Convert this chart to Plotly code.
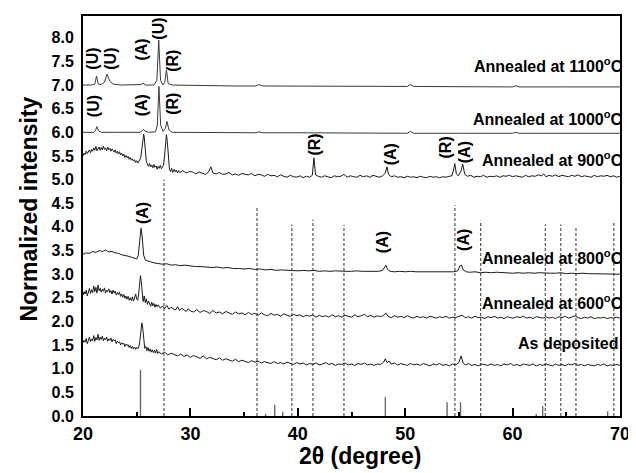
import plotly.graph_objects as go

# ---------------- data ----------------
two_theta_ticks = [20, 30, 40, 50, 60, 70]
intensity_ticks = [0.0, 0.5, 1.0, 1.5, 2.0, 2.5, 3.0, 3.5, 4.0, 4.5, 5.0, 5.5, 6.0, 6.5, 7.0, 7.5, 8.0]

annealed_1100 = [(20, 7.0), (20.8, 7.0), (21.1, 7.02), (21.26, 7.19), (21.42, 7.02), (21.7, 7.01),
                 (22.0, 7.06), (22.24, 7.23), (22.5, 7.08), (22.8, 7.02), (23.5, 7.0), (24.5, 7.0),
                 (25.4, 7.01), (25.6, 7.04), (25.8, 7.0), (26.6, 7.0), (26.88, 7.1), (27.05, 7.95),
                 (27.22, 7.1), (27.45, 7.0), (27.62, 7.06), (27.77, 7.32), (27.93, 7.03), (28.3, 7.0),
                 (30, 6.99), (32, 6.99), (34, 6.98), (36.1, 6.98), (36.4, 7.01), (36.7, 6.98), (40, 6.975),
                 (45, 6.97), (50.2, 6.97), (50.5, 7.01), (50.8, 6.97), (55, 6.965), (60, 6.96),
                 (60.3, 6.985), (60.6, 6.96), (65, 6.96), (70, 6.96)]

annealed_1000 = [(20, 6.0), (21.0, 6.0), (21.15, 6.03), (21.3, 6.12), (21.45, 6.03), (21.7, 6.0),
                 (23, 6.0), (25.3, 6.0), (25.5, 6.03), (25.65, 6.06), (25.8, 6.02), (26.1, 6.0),
                 (26.75, 6.01), (26.92, 6.15), (27.07, 6.97), (27.23, 6.15), (27.45, 6.02), (27.66, 6.08),
                 (27.82, 6.23), (28.0, 6.05), (28.3, 6.0), (30, 6.0), (36.1, 5.99), (36.4, 6.01),
                 (36.7, 5.99), (40, 5.99), (45, 5.985), (50.2, 5.98), (50.5, 6.02), (50.8, 5.98),
                 (55, 5.98), (60, 5.98), (60.3, 6.0), (60.6, 5.98), (70, 5.98)]

annealed_900 = [(20.0, 5.50), (20.1, 5.56), (20.2, 5.53), (20.3, 5.60), (20.4, 5.55), (20.5, 5.58),
                (20.6, 5.63), (20.7, 5.57), (20.8, 5.64), (20.9, 5.60), (21.0, 5.67), (21.1, 5.62),
                (21.2, 5.70), (21.3, 5.61), (21.4, 5.66), (21.5, 5.69), (21.6, 5.62), (21.7, 5.68),
                (21.8, 5.63), (21.9, 5.71), (22.0, 5.64), (22.1, 5.67), (22.2, 5.61), (22.3, 5.69),
                (22.4, 5.63), (22.5, 5.66), (22.6, 5.60), (22.7, 5.65), (22.8, 5.62), (22.9, 5.58),
                (23.0, 5.63), (23.1, 5.56), (23.2, 5.60), (23.3, 5.54), (23.4, 5.59), (23.5, 5.52),
                (23.6, 5.56), (23.7, 5.50), (23.8, 5.54), (23.9, 5.47), (24.0, 5.51), (24.1, 5.46),
                (24.2, 5.49), (24.3, 5.43), (24.4, 5.47), (24.5, 5.41), (24.6, 5.44), (24.7, 5.39),
                (24.8, 5.42), (24.9, 5.36), (25.0, 5.40), (25.1, 5.35), (25.2, 5.39), (25.3, 5.42),
                (25.4, 5.50), (25.5, 5.75), (25.6, 5.94), (25.65, 5.96), (25.7, 5.90), (25.8, 5.62),
                (25.9, 5.38), (26.0, 5.33), (26.1, 5.28), (26.2, 5.34), (26.3, 5.27), (26.4, 5.31),
                (26.5, 5.25), (26.6, 5.32), (26.7, 5.26), (26.8, 5.29), (26.9, 5.22), (27.0, 5.28),
                (27.1, 5.24), (27.2, 5.30), (27.3, 5.23), (27.4, 5.27), (27.5, 5.31), (27.6, 5.52),
                (27.7, 5.88), (27.77, 5.95), (27.85, 5.80), (27.95, 5.45), (28.05, 5.22), (28.15, 5.17),
                (28.25, 5.24), (28.35, 5.15), (28.5, 5.22), (28.6, 5.16), (28.7, 5.20), (28.8, 5.14),
                (28.9, 5.19), (29.0, 5.15), (29.3, 5.19), (29.6, 5.14), (29.9, 5.17), (30.2, 5.16),
                (30.5, 5.12), (30.8, 5.16), (31.1, 5.14), (31.4, 5.11), (31.7, 5.16), (31.9, 5.27),
                (32.1, 5.14), (32.4, 5.12), (32.7, 5.15), (33.0, 5.11), (33.3, 5.12), (33.6, 5.15),
                (33.9, 5.10), (34.2, 5.12), (34.5, 5.09), (34.8, 5.13), (35.1, 5.11), (35.4, 5.10),
                (35.7, 5.13), (36.0, 5.08), (36.3, 5.11), (36.6, 5.10), (36.9, 5.07), (37.2, 5.11),
                (37.5, 5.08), (37.8, 5.09), (38.1, 5.06), (38.4, 5.10), (38.7, 5.07), (39.0, 5.05),
                (39.3, 5.09), (39.6, 5.06), (39.9, 5.05), (40.2, 5.08), (40.5, 5.04), (40.8, 5.07),
                (41.1, 5.05), (41.35, 5.09), (41.5, 5.46), (41.65, 5.10), (41.9, 5.07), (42.2, 5.05),
                (42.5, 5.08), (42.8, 5.06), (43.1, 5.04), (43.4, 5.08), (43.7, 5.06), (44.0, 5.07),
                (44.3, 5.11), (44.6, 5.05), (44.9, 5.08), (45.2, 5.06), (45.5, 5.05), (45.8, 5.09),
                (46.1, 5.06), (46.4, 5.08), (46.7, 5.05), (47.0, 5.09), (47.3, 5.07), (47.6, 5.05),
                (47.9, 5.08), (48.15, 5.14), (48.3, 5.27), (48.45, 5.11), (48.7, 5.06), (49.0, 5.08),
                (49.3, 5.05), (49.6, 5.06), (49.9, 5.04), (50.2, 5.07), (50.5, 5.05), (50.8, 5.06),
                (51.1, 5.04), (51.4, 5.07), (51.7, 5.05), (52.0, 5.04), (52.3, 5.07), (52.6, 5.05),
                (52.9, 5.06), (53.2, 5.04), (53.5, 5.06), (53.8, 5.05), (54.1, 5.07), (54.35, 5.08),
                (54.5, 5.20), (54.62, 5.34), (54.76, 5.12), (54.95, 5.08), (55.2, 5.18), (55.35, 5.33),
                (55.55, 5.11), (55.8, 5.07), (56.1, 5.09), (56.4, 5.05), (56.7, 5.07), (57.0, 5.06),
                (57.3, 5.09), (57.6, 5.05), (57.9, 5.07), (58.2, 5.06), (58.5, 5.08), (58.8, 5.05),
                (59.1, 5.08), (59.4, 5.07), (59.7, 5.09), (60.0, 5.06), (60.3, 5.08), (60.6, 5.07),
                (60.9, 5.05), (61.2, 5.09), (61.5, 5.06), (61.8, 5.08), (62.1, 5.07), (62.4, 5.10),
                (62.7, 5.08), (62.9, 5.12), (63.1, 5.06), (63.4, 5.09), (63.7, 5.07), (64.0, 5.10),
                (64.3, 5.06), (64.6, 5.09), (64.9, 5.08), (65.2, 5.06), (65.5, 5.09), (65.8, 5.07),
                (66.1, 5.10), (66.4, 5.06), (66.7, 5.08), (67.0, 5.07), (67.3, 5.05), (67.6, 5.09),
                (67.9, 5.06), (68.2, 5.08), (68.5, 5.07), (68.8, 5.09), (69.1, 5.06), (69.4, 5.08),
                (69.7, 5.05), (70.0, 5.07)]

annealed_800 = [(20.0, 3.42), (20.3, 3.45), (20.6, 3.44), (20.9, 3.48), (21.2, 3.46), (21.5, 3.50),
                (21.8, 3.48), (22.1, 3.51), (22.4, 3.47), (22.7, 3.48), (23.0, 3.45), (23.3, 3.44),
                (23.6, 3.41), (23.9, 3.40), (24.2, 3.38), (24.5, 3.36), (24.8, 3.34), (25.0, 3.32),
                (25.15, 3.40), (25.3, 3.85), (25.4, 3.97), (25.5, 3.82), (25.65, 3.40), (25.8, 3.30),
                (26.0, 3.28), (26.3, 3.26), (26.6, 3.24), (27.0, 3.23), (27.4, 3.21), (27.8, 3.22),
                (28.2, 3.19), (28.6, 3.20), (29.0, 3.18), (29.5, 3.19), (30.0, 3.17), (30.5, 3.16),
                (31.0, 3.16), (31.5, 3.15), (32.0, 3.14), (32.5, 3.15), (33.0, 3.13), (33.5, 3.14),
                (34.0, 3.12), (34.5, 3.12), (35.0, 3.11), (35.5, 3.12), (36.0, 3.10), (36.5, 3.11),
                (37.0, 3.09), (37.5, 3.10), (38.0, 3.08), (38.5, 3.09), (39.0, 3.08), (39.5, 3.08),
                (40.0, 3.07), (40.5, 3.08), (41.0, 3.07), (41.5, 3.08), (42.0, 3.06), (42.5, 3.07),
                (43.0, 3.06), (43.5, 3.07), (44.0, 3.06), (44.5, 3.06), (45.0, 3.06), (45.5, 3.07),
                (46.0, 3.06), (46.5, 3.06), (47.0, 3.06), (47.5, 3.06), (47.9, 3.08), (48.1, 3.17),
                (48.2, 3.19), (48.35, 3.10), (48.6, 3.06), (49.0, 3.05), (49.5, 3.06), (50.0, 3.05),
                (50.5, 3.06), (51.0, 3.05), (51.5, 3.05), (52.0, 3.05), (52.5, 3.05), (53.0, 3.04),
                (53.5, 3.05), (54.0, 3.04), (54.5, 3.05), (54.9, 3.07), (55.1, 3.18), (55.25, 3.19),
                (55.4, 3.09), (55.7, 3.05), (56.0, 3.04), (56.5, 3.05), (57.0, 3.03), (57.5, 3.04),
                (58.0, 3.03), (58.5, 3.04), (59.0, 3.03), (59.5, 3.03), (60.0, 3.02), (60.5, 3.03),
                (61.0, 3.02), (61.5, 3.03), (62.0, 3.02), (62.5, 3.03), (63.0, 3.02), (63.5, 3.02),
                (64.0, 3.02), (64.5, 3.03), (65.0, 3.01), (65.5, 3.02), (66.0, 3.01), (66.5, 3.02),
                (67.0, 3.01), (67.5, 3.01), (68.0, 3.00), (68.5, 3.01), (69.0, 3.00), (69.5, 3.01),
                (70.0, 3.00)]

annealed_600 = [(20.0, 2.55), (20.1, 2.63), (20.2, 2.58), (20.3, 2.66), (20.4, 2.54), (20.5, 2.62),
                (20.6, 2.70), (20.7, 2.59), (20.8, 2.67), (20.9, 2.61), (21.0, 2.75), (21.1, 2.63),
                (21.2, 2.72), (21.3, 2.60), (21.4, 2.77), (21.5, 2.65), (21.6, 2.70), (21.7, 2.62),
                (21.8, 2.68), (21.9, 2.64), (22.0, 2.71), (22.1, 2.60), (22.2, 2.66), (22.3, 2.63),
                (22.4, 2.69), (22.5, 2.61), (22.6, 2.65), (22.7, 2.58), (22.8, 2.66), (22.9, 2.60),
                (23.0, 2.64), (23.1, 2.56), (23.2, 2.61), (23.3, 2.57), (23.4, 2.62), (23.5, 2.53),
                (23.6, 2.58), (23.7, 2.51), (23.8, 2.57), (23.9, 2.49), (24.0, 2.54), (24.1, 2.47),
                (24.2, 2.53), (24.3, 2.45), (24.4, 2.50), (24.5, 2.44), (24.6, 2.52), (24.7, 2.43),
                (24.8, 2.49), (24.9, 2.58), (25.0, 2.47), (25.1, 2.45), (25.2, 2.62), (25.3, 2.90),
                (25.35, 2.97), (25.42, 2.85), (25.5, 2.55), (25.6, 2.42), (25.7, 2.54), (25.8, 2.40),
                (25.9, 2.48), (26.0, 2.36), (26.1, 2.43), (26.2, 2.38), (26.3, 2.32), (26.4, 2.41),
                (26.5, 2.33), (26.6, 2.38), (26.7, 2.30), (26.8, 2.36), (26.9, 2.31), (27.0, 2.35),
                (27.2, 2.28), (27.4, 2.33), (27.6, 2.27), (27.8, 2.34), (28.0, 2.26), (28.2, 2.30),
                (28.4, 2.27), (28.6, 2.24), (28.8, 2.31), (29.0, 2.23), (29.2, 2.28), (29.4, 2.25),
                (29.6, 2.21), (29.8, 2.27), (30.0, 2.22), (30.3, 2.20), (30.6, 2.25), (30.9, 2.19),
                (31.2, 2.23), (31.5, 2.21), (31.8, 2.17), (32.1, 2.23), (32.4, 2.18), (32.7, 2.20),
                (33.0, 2.16), (33.3, 2.21), (33.6, 2.18), (33.9, 2.15), (34.2, 2.20), (34.5, 2.16),
                (34.8, 2.18), (35.1, 2.14), (35.4, 2.19), (35.7, 2.15), (36.0, 2.17), (36.3, 2.13),
                (36.6, 2.18), (36.9, 2.14), (37.2, 2.12), (37.5, 2.17), (37.8, 2.13), (38.1, 2.15),
                (38.4, 2.11), (38.7, 2.16), (39.0, 2.13), (39.3, 2.11), (39.6, 2.15), (39.9, 2.12),
                (40.2, 2.14), (40.5, 2.10), (40.8, 2.13), (41.1, 2.11), (41.4, 2.14), (41.7, 2.09),
                (42.0, 2.13), (42.3, 2.10), (42.6, 2.12), (42.9, 2.09), (43.2, 2.14), (43.5, 2.10),
                (43.8, 2.12), (44.1, 2.09), (44.4, 2.13), (44.7, 2.11), (45.0, 2.09), (45.3, 2.14),
                (45.6, 2.10), (45.9, 2.12), (46.2, 2.15), (46.5, 2.10), (46.8, 2.13), (47.1, 2.09),
                (47.4, 2.12), (47.7, 2.10), (48.0, 2.13), (48.2, 2.18), (48.4, 2.11), (48.7, 2.08),
                (49.0, 2.12), (49.3, 2.09), (49.6, 2.11), (49.9, 2.08), (50.2, 2.12), (50.5, 2.09),
                (50.8, 2.07), (51.1, 2.11), (51.4, 2.08), (51.7, 2.10), (52.0, 2.07), (52.3, 2.11),
                (52.6, 2.09), (52.9, 2.07), (53.2, 2.10), (53.5, 2.08), (53.8, 2.11), (54.1, 2.07),
                (54.4, 2.09), (54.7, 2.08), (55.0, 2.11), (55.3, 2.13), (55.6, 2.08), (55.9, 2.10),
                (56.2, 2.07), (56.5, 2.11), (56.8, 2.08), (57.1, 2.09), (57.4, 2.06), (57.7, 2.10),
                (58.0, 2.08), (58.3, 2.11), (58.6, 2.07), (58.9, 2.09), (59.2, 2.06), (59.5, 2.10),
                (59.8, 2.08), (60.1, 2.07), (60.4, 2.10), (60.7, 2.08), (61.0, 2.11), (61.3, 2.07),
                (61.6, 2.09), (61.9, 2.06), (62.2, 2.10), (62.5, 2.08), (62.8, 2.07), (63.1, 2.10),
                (63.4, 2.07), (63.7, 2.09), (64.0, 2.06), (64.3, 2.10), (64.6, 2.08), (64.9, 2.11),
                (65.2, 2.07), (65.5, 2.09), (65.8, 2.12), (66.1, 2.08), (66.4, 2.06), (66.7, 2.09),
                (67.0, 2.07), (67.3, 2.10), (67.6, 2.06), (67.9, 2.08), (68.2, 2.07), (68.5, 2.09),
                (68.8, 2.06), (69.1, 2.08), (69.4, 2.07), (69.7, 2.09), (70.0, 2.07)]

as_deposited = [(20.0, 1.55), (20.1, 1.60), (20.2, 1.56), (20.3, 1.64), (20.4, 1.53), (20.5, 1.61),
                (20.6, 1.67), (20.7, 1.57), (20.8, 1.63), (20.9, 1.59), (21.0, 1.70), (21.1, 1.58),
                (21.2, 1.66), (21.3, 1.61), (21.4, 1.73), (21.5, 1.60), (21.6, 1.67), (21.7, 1.62),
                (21.8, 1.69), (21.9, 1.59), (22.0, 1.65), (22.1, 1.61), (22.2, 1.67), (22.3, 1.58),
                (22.4, 1.63), (22.5, 1.60), (22.6, 1.65), (22.7, 1.57), (22.8, 1.62), (22.9, 1.59),
                (23.0, 1.61), (23.1, 1.53), (23.2, 1.58), (23.3, 1.55), (23.4, 1.57), (23.5, 1.50),
                (23.6, 1.55), (23.7, 1.52), (23.8, 1.54), (23.9, 1.47), (24.0, 1.52), (24.1, 1.49),
                (24.2, 1.51), (24.3, 1.45), (24.4, 1.49), (24.5, 1.43), (24.6, 1.47), (24.7, 1.42),
                (24.8, 1.46), (24.9, 1.41), (25.0, 1.45), (25.1, 1.42), (25.2, 1.46), (25.3, 1.60),
                (25.4, 1.88), (25.48, 1.97), (25.56, 1.86), (25.65, 1.58), (25.75, 1.43), (25.85, 1.47),
                (25.95, 1.38), (26.05, 1.45), (26.15, 1.37), (26.25, 1.42), (26.35, 1.35), (26.45, 1.40),
                (26.55, 1.34), (26.65, 1.39), (26.75, 1.33), (26.85, 1.41), (26.95, 1.32), (27.05, 1.36),
                (27.3, 1.31), (27.6, 1.35), (27.9, 1.29), (28.2, 1.33), (28.5, 1.30), (28.8, 1.27),
                (29.1, 1.31), (29.4, 1.26), (29.7, 1.29), (30.0, 1.24), (30.3, 1.28), (30.6, 1.25),
                (30.9, 1.22), (31.2, 1.27), (31.5, 1.21), (31.8, 1.24), (32.1, 1.22), (32.4, 1.19),
                (32.7, 1.23), (33.0, 1.18), (33.3, 1.21), (33.6, 1.19), (33.9, 1.16), (34.2, 1.20),
                (34.5, 1.15), (34.8, 1.18), (35.1, 1.16), (35.4, 1.13), (35.7, 1.17), (36.0, 1.14),
                (36.3, 1.16), (36.6, 1.12), (36.9, 1.15), (37.2, 1.13), (37.5, 1.11), (37.8, 1.15),
                (38.1, 1.11), (38.4, 1.13), (38.7, 1.10), (39.0, 1.14), (39.3, 1.11), (39.6, 1.09),
                (39.9, 1.13), (40.2, 1.10), (40.5, 1.12), (40.8, 1.08), (41.1, 1.11), (41.4, 1.09),
                (41.7, 1.12), (42.0, 1.08), (42.3, 1.10), (42.6, 1.13), (42.9, 1.09), (43.2, 1.11),
                (43.5, 1.07), (43.8, 1.10), (44.1, 1.09), (44.4, 1.12), (44.7, 1.08), (45.0, 1.10),
                (45.3, 1.07), (45.6, 1.11), (45.9, 1.09), (46.2, 1.12), (46.5, 1.08), (46.8, 1.10),
                (47.1, 1.07), (47.4, 1.10), (47.7, 1.09), (48.0, 1.14), (48.15, 1.21), (48.3, 1.13),
                (48.5, 1.16), (48.7, 1.10), (49.0, 1.12), (49.3, 1.08), (49.6, 1.11), (49.9, 1.09),
                (50.2, 1.07), (50.5, 1.11), (50.8, 1.08), (51.1, 1.10), (51.4, 1.07), (51.7, 1.11),
                (52.0, 1.09), (52.3, 1.06), (52.6, 1.10), (52.9, 1.08), (53.2, 1.11), (53.5, 1.07),
                (53.8, 1.09), (54.1, 1.06), (54.4, 1.10), (54.7, 1.08), (55.0, 1.13), (55.2, 1.27),
                (55.4, 1.12), (55.6, 1.08), (55.9, 1.11), (56.2, 1.07), (56.5, 1.09), (56.8, 1.06),
                (57.1, 1.10), (57.4, 1.08), (57.7, 1.07), (58.0, 1.10), (58.3, 1.07), (58.6, 1.09),
                (58.9, 1.06), (59.2, 1.10), (59.5, 1.08), (59.8, 1.11), (60.1, 1.07), (60.4, 1.09),
                (60.7, 1.06), (61.0, 1.10), (61.3, 1.08), (61.6, 1.07), (61.9, 1.10), (62.2, 1.06),
                (62.5, 1.09), (62.8, 1.07), (63.1, 1.10), (63.4, 1.08), (63.7, 1.06), (64.0, 1.10),
                (64.3, 1.07), (64.6, 1.09), (64.9, 1.06), (65.2, 1.10), (65.5, 1.08), (65.8, 1.11),
                (66.1, 1.07), (66.4, 1.09), (66.7, 1.06), (67.0, 1.09), (67.3, 1.08), (67.6, 1.06),
                (67.9, 1.09), (68.2, 1.07), (68.5, 1.10), (68.8, 1.06), (69.1, 1.08), (69.4, 1.07),
                (69.7, 1.09), (70.0, 1.07)]

# reference patterns
anatase_pos = [25.35, 37.0, 37.85, 38.6, 48.15, 53.9, 55.15, 62.2, 62.8, 68.85]
anatase_height = [0.98, 0.05, 0.24, 0.09, 0.40, 0.29, 0.29, 0.04, 0.21, 0.10]
rutile_pos = [27.54, 36.2, 39.45, 41.41, 44.3, 54.63, 57.03, 63.04, 64.49, 65.9, 69.43]
rutile_height = [5.0, 4.43, 4.05, 4.15, 4.04, 4.46, 4.13, 4.05, 4.05, 3.98, 4.13]

curve_labels = ["Annealed at 1100<sup>o</sup>C", "Annealed at 1000<sup>o</sup>C",
                "Annealed at 900<sup>o</sup>C", "Annealed at 800<sup>o</sup>C",
                "Annealed at 600<sup>o</sup>C", "As deposited"]
curve_label_y = [7.43, 6.31, 5.44, 3.37, 2.42, 1.53]
curve_label_x = [70, 70, 70, 70, 70, 69.55]

peak_text = ["(U)", "(U)", "(A)", "(U)", "(R)",
             "(U)", "(A)", "(R)",
             "(R)", "(A)", "(R)", "(A)",
             "(A)", "(A)", "(A)"]
peak_x = [20.85, 22.53, 25.45, 27.02, 28.37,
          20.92, 25.45, 28.37,
          41.6, 48.66, 53.76, 55.53,
          25.53, 47.9, 55.36]
peak_y = [7.56, 7.56, 7.74, 8.2, 7.51,
          6.55, 6.56, 6.6,
          5.74, 5.53, 5.67, 5.57,
          4.3, 3.67, 3.72]

# ---------------- figure ----------------
FONT = "Arial, Liberation Sans, Helvetica, sans-serif"
fig = go.Figure()

# rutile reference lines (dashed)
rx, ry = [], []
for p, h in zip(rutile_pos, rutile_height):
    rx += [p, p, None]
    ry += [0, h, None]
fig.add_trace(go.Scatter(x=rx, y=ry, mode="lines",
                         line=dict(color="#333333", width=1, dash="3px,2px"),
                         hoverinfo="skip", showlegend=False))

# anatase reference lines (solid grey)
ax_, ay_ = [], []
for p, h in zip(anatase_pos, anatase_height):
    ax_ += [p, p, None]
    ay_ += [0, h, None]
fig.add_trace(go.Scatter(x=ax_, y=ay_, mode="lines",
                         line=dict(color="#6a6a6a", width=1.4),
                         hoverinfo="skip", showlegend=False))

series = [annealed_1100, annealed_1000, annealed_900, annealed_800, annealed_600, as_deposited]
colors = ["#3a3a3a", "#3a3a3a", "#1a1a1a", "#1a1a1a", "#1a1a1a", "#1a1a1a"]
for s, c in zip(series, colors):
    xs = [p[0] for p in s]
    ys = [p[1] for p in s]
    fig.add_trace(go.Scatter(x=xs, y=ys, mode="lines", line=dict(color=c, width=1),
                             showlegend=False))

annotations = []
for t, x, y in zip(curve_labels, curve_label_x, curve_label_y):
    annotations.append(dict(x=x, y=y, xref="x", yref="y", text="<b>" + t + "</b>", showarrow=False,
                            xanchor="right", yanchor="middle", xshift=5,
                            font=dict(family=FONT, size=16, color="black")))
for t, x, y in zip(peak_text, peak_x, peak_y):
    annotations.append(dict(x=x, y=y, xref="x", yref="y", text="<b>" + t + "</b>", showarrow=False,
                            textangle=-90, xanchor="center", yanchor="middle",
                            font=dict(family=FONT, size=16, color="black")))
# axis titles
annotations.append(dict(x=0, y=0.516, xref="paper", yref="paper",
                        text="<b>Normalized intensity</b>", showarrow=False, textangle=-90,
                        xanchor="center", yanchor="middle", xshift=-54,
                        font=dict(family=FONT, size=23, color="black")))
annotations.append(dict(x=45.8, y=0, xref="x", yref="paper",
                        text="<b>2θ (degree)</b>", showarrow=False,
                        xanchor="center", yanchor="middle", yshift=-40,
                        font=dict(family=FONT, size=23, color="black")))

# the page body has an 8px margin, so the figure is made 8px smaller on each side it touches
fig.update_layout(
    width=628, height=465,
    margin=dict(l=75, r=11, t=6, b=57),
    paper_bgcolor="white", plot_bgcolor="white",
    annotations=annotations,
    xaxis=dict(range=[20, 70], tickvals=two_theta_ticks,
               ticktext=["<b>%d</b>" % v for v in two_theta_ticks],
               ticks="inside", ticklen=8, tickwidth=2, tickcolor="black",
               minor=dict(dtick=5, ticks="inside", ticklen=4, tickwidth=2, tickcolor="black"),
               showline=True, linewidth=2, linecolor="black", mirror=True,
               showgrid=False, zeroline=False,
               tickfont=dict(family=FONT, size=18, color="black")),
    yaxis=dict(range=[0, 8.46], tickvals=intensity_ticks,
               ticktext=["<b>%.1f</b>" % v for v in intensity_ticks],
               ticks="", showline=True, linewidth=2, linecolor="black", mirror=True,
               showgrid=False, zeroline=False, ticklabelstandoff=4,
               tickfont=dict(family=FONT, size=16, color="black")),
)

fig.write_html("out.html")
